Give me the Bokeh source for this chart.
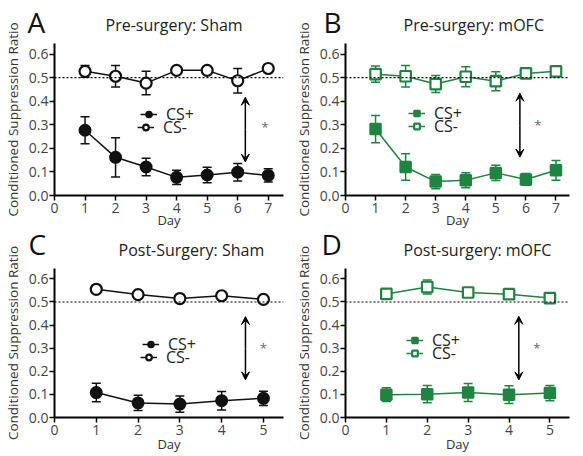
from bokeh.plotting import figure
from bokeh.layouts import column, row
from bokeh.models import (ColumnDataSource, Whisker, TeeHead, Arrow, VeeHead, Label, Title,
                          Span, Legend, LegendItem, FixedTicker, CustomJSTickFormatter)
from bokeh.embed import file_html
from bokeh.resources import INLINE

# ---------------- data ----------------
days_pre = [1, 2, 3, 4, 5, 6, 7]
days_post = [1, 2, 3, 4, 5]

sham_pre_csp = [0.277, 0.162, 0.121, 0.077, 0.087, 0.099, 0.085]
sham_pre_csp_err = [0.057, 0.083, 0.037, 0.030, 0.033, 0.037, 0.028]
sham_pre_csm = [0.527, 0.506, 0.477, 0.531, 0.531, 0.487, 0.539]
sham_pre_csm_err = [0.025, 0.046, 0.050, 0.008, 0.008, 0.052, 0.015]

mofc_pre_csp = [0.282, 0.121, 0.059, 0.065, 0.096, 0.068, 0.107]
mofc_pre_csp_err = [0.058, 0.056, 0.030, 0.032, 0.032, 0.025, 0.042]
mofc_pre_csm = [0.515, 0.506, 0.473, 0.504, 0.485, 0.518, 0.527]
mofc_pre_csm_err = [0.034, 0.046, 0.036, 0.042, 0.040, 0.010, 0.010]

sham_post_csp = [0.108, 0.063, 0.058, 0.073, 0.083]
sham_post_csp_err = [0.040, 0.033, 0.035, 0.040, 0.031]
sham_post_csm = [0.555, 0.532, 0.515, 0.527, 0.511]
sham_post_csm_err = [0.008, 0.008, 0.012, 0.008, 0.010]

mofc_post_csp = [0.099, 0.101, 0.108, 0.099, 0.106]
mofc_post_csp_err = [0.030, 0.037, 0.039, 0.038, 0.033]
mofc_post_csm = [0.535, 0.565, 0.541, 0.534, 0.517]
mofc_post_csm_err = [0.010, 0.030, 0.010, 0.010, 0.010]

titles = ["Pre-surgery: Sham", "Pre-surgery: mOFC", "Post-Surgery: Sham", "Post-surgery: mOFC"]
letters = ["A", "B", "C", "D"]
y_label = "Conditioned Suppression Ratio"
x_label = "Day"
y_ticks = [0.0, 0.1, 0.2, 0.3, 0.4, 0.5, 0.6]
chance_level = 0.5
# significance arrow (x, y_bottom, y_top) and asterisk position per panel
arrows = [(6.25, 0.142, 0.417), (5.8, 0.163, 0.434), (4.57, 0.163, 0.437), (4.24, 0.163, 0.438)]
stars = [(6.9, 0.29), (6.4, 0.30), (5.0, 0.30), (4.68, 0.30)]

BLACK = "#111111"
GREEN = "#1f8440"
FONT = "Open Sans"


def panel(idx, days, csp, csp_err, csm, csm_err, color, marker, x_end,
          width, height, left, right, top, bottom, leg_plus, leg_minus,
          title_off, title_so, letter_off, letter_so, day_so):
    p = figure(width=width, height=height, x_range=(0, x_end), y_range=(0, 0.645),
               output_backend="svg", toolbar_location=None,
               min_border_left=left, min_border_right=right,
               min_border_top=top, min_border_bottom=bottom)
    p.outline_line_color = None
    p.grid.visible = False
    p.background_fill_color = "white"

    for ax in (p.xaxis[0], p.yaxis[0]):
        ax.axis_line_width = 2
        ax.axis_line_color = "black"
        ax.major_tick_line_width = 1.5
        ax.major_tick_line_color = "black"
        ax.major_tick_out = 5
        ax.major_tick_in = 0
        ax.minor_tick_line_color = None
        ax.major_label_text_font = FONT
        ax.major_label_text_font_size = "14px"
        ax.major_label_text_color = "#444444"
    p.yaxis[0].ticker = FixedTicker(ticks=y_ticks)
    p.yaxis[0].formatter = CustomJSTickFormatter(code="return tick.toFixed(1);")
    p.xaxis[0].ticker = FixedTicker(ticks=list(range(0, len(days) + 1)))
    p.yaxis[0].major_label_standoff = 1
    p.yaxis[0].axis_label = y_label
    p.yaxis[0].axis_label_text_font = FONT
    p.yaxis[0].axis_label_text_font_style = "normal"
    p.yaxis[0].axis_label_text_font_size = "13.5px"
    p.yaxis[0].axis_label_text_color = "#333333"
    p.yaxis[0].axis_label_standoff = 4
    p.xaxis[0].major_label_standoff = 2

    # titles: panel title, panel letter (above) and x-axis label (below)
    p.add_layout(Title(text=titles[idx], align="left", offset=title_off, standoff=title_so,
                       text_font=FONT, text_font_size="16px", text_font_style="normal",
                       text_color="#222222"), "above")
    p.add_layout(Title(text=letters[idx], align="left", offset=letter_off, standoff=letter_so,
                       text_font=FONT, text_font_size="28px", text_font_style="normal",
                       text_color="#111111"), "above")
    p.add_layout(Title(text=x_label, align="center", standoff=day_so,
                       text_font=FONT, text_font_size="13px", text_font_style="normal",
                       text_color="#333333"), "below")

    p.add_layout(Span(location=chance_level, dimension="width", line_color="black",
                      line_dash="2 2", line_width=1.2))

    src_p = ColumnDataSource(dict(x=days, y=csp,
                                  lo=[v - e for v, e in zip(csp, csp_err)],
                                  hi=[v + e for v, e in zip(csp, csp_err)]))
    src_m = ColumnDataSource(dict(x=days, y=csm,
                                  lo=[v - e for v, e in zip(csm, csm_err)],
                                  hi=[v + e for v, e in zip(csm, csm_err)]))
    for src in (src_p, src_m):
        p.add_layout(Whisker(source=src, base="x", lower="lo", upper="hi",
                             line_color=color, line_width=1.5,
                             upper_head=TeeHead(size=9, line_color=color, line_width=1.5),
                             lower_head=TeeHead(size=9, line_color=color, line_width=1.5)))

    msize = 11 if marker == "circle" else 10.5
    lp = p.line("x", "y", source=src_p, line_color=color, line_width=1.5)
    sp = p.scatter("x", "y", source=src_p, marker=marker, size=msize,
                   fill_color=color, line_color=color, line_width=2)
    lm = p.line("x", "y", source=src_m, line_color=color, line_width=1.5)
    sm = p.scatter("x", "y", source=src_m, marker=marker, size=msize,
                   fill_color="white", line_color=color, line_width=2.2)

    ax_, y0, y1 = arrows[idx]
    for yend in (y1, y0):
        p.add_layout(Arrow(x_start=ax_, x_end=ax_, y_start=(y0 + y1) / 2, y_end=yend,
                           line_width=1.5, line_color="black",
                           end=VeeHead(size=8, fill_color="black", line_color="black",
                                       line_width=1)))
    sx, sy = stars[idx]
    p.add_layout(Label(x=sx, y=sy, text="*", text_font=FONT, text_font_size="13px",
                       text_color="#666666", text_align="center", text_baseline="middle"))

    for lab, rends, loc in (("CS+", [lp, sp], leg_plus), ("CS-", [lm, sm], leg_minus)):
        p.add_layout(Legend(items=[LegendItem(label=lab, renderers=rends)],
                            location=loc, background_fill_alpha=0, border_line_color=None,
                            label_text_font=FONT, label_text_font_size="16px",
                            label_text_color="#222222", glyph_width=17, glyph_height=14,
                            label_standoff=9, spacing=0, padding=0, margin=0,
                            label_height=14))
    return p


pA = panel(0, days_pre, sham_pre_csp, sham_pre_csp_err, sham_pre_csm, sham_pre_csm_err,
           BLACK, "circle", 7.5, 291, 228, 53, 8, 43, 33, (86, 70), (83, 57),
           51, 16, -27, -75, -13)
pB = panel(1, days_pre, mofc_pre_csp, mofc_pre_csp_err, mofc_pre_csm, mofc_pre_csm_err,
           GREEN, "square", 7.45, 290, 228, 49, 12, 43, 33, (63, 71), (63, 58),
           58, 16, -22, -75, -13)
pC = panel(2, days_post, sham_post_csp, sham_post_csp_err, sham_post_csm, sham_post_csm_err,
           BLACK, "circle", 5.48, 291, 226, 53, 8, 36, 37, (88, 62), (86, 49),
           64, 16, -26, -69, -9)
pD = panel(3, days_post, mofc_post_csp, mofc_post_csp_err, mofc_post_csm, mofc_post_csm_err,
           GREEN, "square", 5.48, 290, 226, 49, 12, 36, 37, (61, 66), (61, 53),
           58, 16, -24, -69, -9)

layout = column(row(pA, pB), row(pC, pD))
open("out.html", "w").write(file_html(layout, INLINE))
